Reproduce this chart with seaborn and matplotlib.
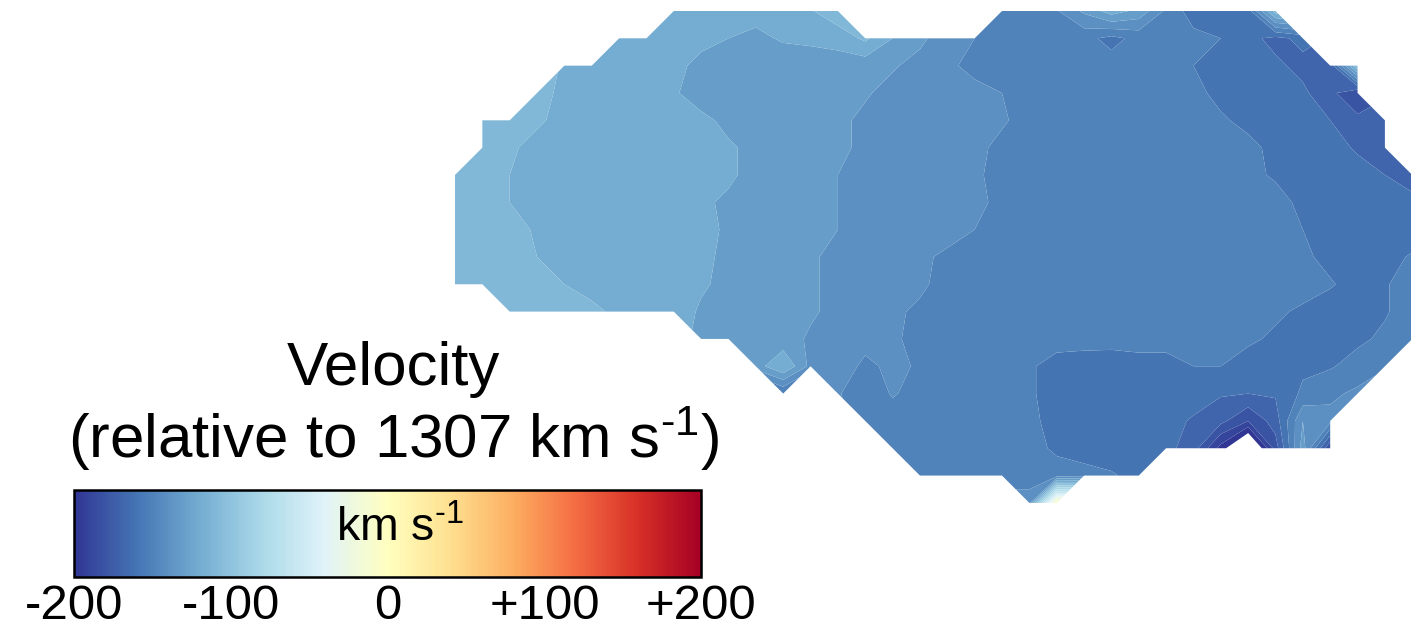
import numpy as np
import matplotlib
matplotlib.use("Agg")
import matplotlib.pyplot as plt
from matplotlib.colors import Normalize
from matplotlib.cm import ScalarMappable
import seaborn as sns

nan = np.nan

# Line-of-sight velocity on the spaxel grid (km/s, relative to systemic).
# Rows run top to bottom, columns left to right; nan = no data.
velocity_rows = [
    [nan]*8 + [-120, -120, -121, -122, -119, -116, -108] + [nan]*5
    + [-150, -152, -146, -133, -120, -128, -147, -160, -160, -160, -110] + [nan]*5,
    [nan]*6 + [-118, -119, -120, -122, -125, -127, -124, -123, -121, -113, -125, -133, -140,
               -145, -150, -150, -150, -152, -158, -152, -150, -152, -155, -162, -168, -162] + [nan]*4,
    [nan]*4 + [-116, -118, -119, -120, -122, -128, -130, -131, -130, -130, -130, -131, -134, -138,
               -143, -148, -150, -150, -150, -150, -151, -151, -152, -155, -160, -162, -163, -168,
               -172, -105] + [nan]*2,
    [nan]*3 + [-112, -117, -119, -120, -120, -124, -129, -130, -131, -131, -131, -131, -134, -138,
               -140, -140, -142, -145, -150, -150, -150, -150, -150, -150, -153, -157, -160, -162,
               -163, -172, -185] + [nan]*2,
    [nan] + [-108, -110, -114, -117, -119, -120, -120, -120, -123, -127, -130, -132, -132, -133,
             -137, -140, -140, -140, -140, -144, -148, -150, -150, -150, -150, -150, -150, -154,
             -157, -160, -162, -165, -172, -165] + [nan],
    [nan] + [-108, -114, -117, -120, -120, -120, -120, -120, -120, -124, -127, -130, -131, -133,
             -137, -140, -140, -140, -143, -147, -150, -150, -150, -150, -150, -150, -150, -150,
             -153, -157, -160, -162, -166, -170] + [nan],
    [-105, -110, -115, -118, -120, -120, -120, -120, -120, -120, -124, -127, -130, -132, -135, -138,
     -140, -140, -140, -144, -147, -150, -150, -150, -150, -150, -150, -150, -150, -153, -156, -160,
     -161, -162, -165, -170],
    [-105, -110, -115, -118, -120, -120, -120, -120, -120, -124, -126, -128, -130, -132, -135, -138,
     -140, -140, -140, -143, -147, -150, -150, -150, -150, -150, -150, -150, -150, -150, -152, -157,
     -160, -160, -161, -162],
    [-106, -108, -112, -116, -120, -120, -120, -120, -120, -123, -126, -128, -130, -132, -135, -138,
     -140, -140, -141, -145, -148, -150, -150, -150, -150, -150, -150, -150, -150, -150, -152, -155,
     -158, -160, -160, -160],
    [-106, -108, -111, -115, -118, -120, -120, -120, -120, -123, -127, -129, -131, -134, -137, -140,
     -140, -143, -147, -148, -150, -150, -150, -150, -150, -150, -150, -150, -150, -150, -150, -153,
     -158, -160, -158, -154],
    [-107, -108, -110, -112, -115, -118, -120, -120, -120, -124, -127, -130, -132, -134, -137, -140,
     -142, -144, -147, -150, -150, -150, -150, -150, -150, -150, -150, -150, -150, -150, -150, -150,
     -154, -159, -156, -150],
    [nan]*2 + [-106, -108, -110, -113, -117, -118, -121, -126, -128, -130, -132, -134, -137, -140,
               -144, -146, -150, -150, -150, -150, -150, -150, -150, -150, -150, -150, -150, -150,
               -153, -157, -160, -158, -156, -150],
    [nan]*9 + [-127, -129, -130, -132, -136, -140, -142, -144, -147, -150, -150, -150, -151, -152,
               -152, -153, -153, -153, -152, -152, -153, -157, -160, -160, -157, -153, -148],
    [nan]*11 + [-130, -115, -138, -140, -147, -143, -146, -150, -150, -150, -154, -158, -159, -158,
                -157, -157, -155, -155, -160, -162, -157, -156, -151, -146] + [nan],
    [nan]*12 + [-155, nan, -144, -152, -144, -149, -150, -150, -150, -154, -158, -160, -160, -160,
                -160, -161, -164, -165, -164, -153, -147, -143] + [nan]*2,
    [nan]*15 + [-150, -150, -150, -150, -150, -150, -153, -158, -160, -160, -160, -162, -166, -172,
                -185, -170, -135, -142] + [nan]*3,
    [nan]*16 + [-150, -150, -150, -150, -150, -151, -157, -160, -160, -160, -162, -170, -199, -230,
                -180, -130, -185] + [nan]*3,
    [nan]*17 + [-150, -150, -150, -150, -150, -150, -151, -154, -158] + [nan]*10,
    [nan]*21 + [-140, 0] + [nan]*13,
]

v_min, v_max = -200, 200
band_step = 10
tick_values = [-200, -100, 0, 100, 200]
tick_labels = ["-200", "-100", "0", "+100", "+200"]
systemic_velocity = 1307

sns.set_style("white")
plt.rcParams["font.family"] = ["Liberation Sans", "DejaVu Sans"]
plt.rcParams["mathtext.fontset"] = "custom"
plt.rcParams["mathtext.rm"] = "Liberation Sans"
plt.rcParams["mathtext.it"] = "Liberation Sans:italic"
plt.rcParams["mathtext.default"] = "regular"
plt.rcParams["axes.unicode_minus"] = False
plt.rcParams["text.color"] = "black"

# unit string with a short hyphen in the exponent
unit = "km s$^{\u20101}$"

cmap = sns.color_palette("RdYlBu_r", as_cmap=True)
norm = Normalize(vmin=v_min, vmax=v_max)

field = np.ma.masked_invalid(np.array(velocity_rows, dtype=float))
n_rows, n_cols = field.shape
cols = np.arange(n_cols)
rows = np.arange(n_rows)

W, H = 1411, 632
fig = plt.figure(figsize=(W / 100, H / 100), dpi=100)
fig.patch.set_facecolor("white")

# velocity map
map_left, map_right, map_top, map_bottom = 455, 1412.25, 11, 502.9
ax = fig.add_axes([map_left / W, 1 - map_bottom / H,
                   (map_right - map_left) / W, (map_bottom - map_top) / H])
levels = np.arange(v_min - band_step / 2, v_max + band_step / 2 + 1, band_step)
ax.contourf(cols, rows, field, levels=levels, cmap=cmap, norm=norm,
            corner_mask=True, antialiased=True)
ax.set_xlim(0, n_cols - 1)
ax.set_ylim(n_rows - 1, 0)
ax.axis("off")

# colour bar
cb_left, cb_right, cb_top, cb_bottom = 73.7, 701.4, 490, 576.7
cax = fig.add_axes([cb_left / W, 1 - cb_bottom / H,
                    (cb_right - cb_left) / W, (cb_bottom - cb_top) / H])
cb = fig.colorbar(ScalarMappable(norm=norm, cmap=cmap), cax=cax,
                  orientation="horizontal", ticks=tick_values)
cb.ax.set_xticklabels(tick_labels, fontsize=35.5)
cb.ax.tick_params(direction="in", length=18, width=0.8, color="#222222",
                  labelcolor="black", pad=5)
cb.outline.set_linewidth(1.8)
cb.outline.set_edgecolor("black")
cb.ax.text((400 - cb_left) / (cb_right - cb_left), (cb_bottom - 541.7) / (cb_bottom - cb_top),
           unit, transform=cb.ax.transAxes, ha="center", va="baseline",
           fontsize=33.5, color="black")

# title
fig.text(393 / W, 1 - 385 / H, "Velocity", ha="center", va="baseline",
         fontsize=44.6, color="black")
fig.text(393 / W, 1 - 458 / H, f"(relative to {systemic_velocity} {unit})",
         ha="center", va="baseline", fontsize=44.6, color="black")

fig.savefig("out.png", dpi=100, facecolor="white")
